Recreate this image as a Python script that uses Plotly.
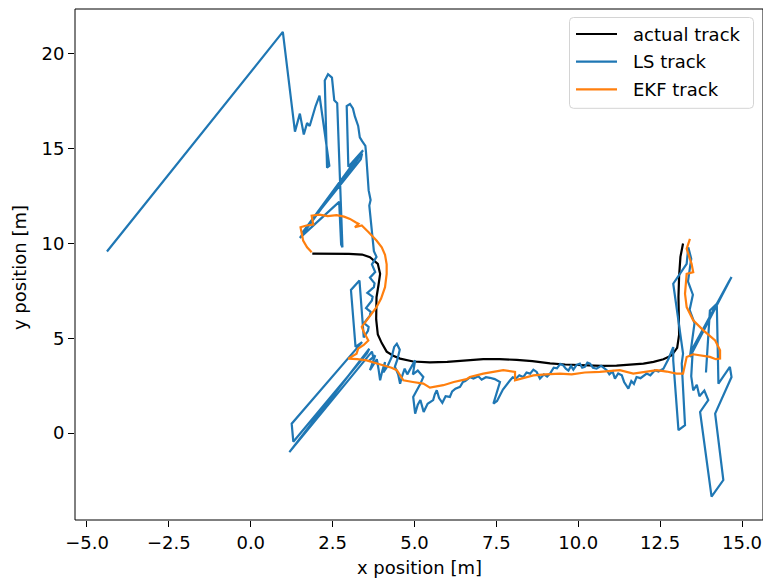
import plotly.graph_objects as go

# ---------------- data (x [m], y [m]) ----------------
actual_points = [
    (1.88, 9.47), (2.5, 9.47), (3.0, 9.45), (3.4, 9.42), (3.64, 9.28), (3.88, 8.93), (3.95, 8.4),
    (3.9, 7.8), (3.84, 7.17), (3.83, 6.0), (3.88, 5.2), (4.0, 4.75), (4.15, 4.3), (4.35, 4.08),
    (4.56, 3.93), (4.96, 3.78), (5.47, 3.73), (6.0, 3.76), (6.69, 3.86), (7.1, 3.9), (7.6, 3.9),
    (8.12, 3.87), (8.6, 3.8), (9.14, 3.68), (9.6, 3.62), (10.15, 3.57), (10.7, 3.55), (11.17, 3.56),
    (11.6, 3.6), (11.99, 3.67), (12.3, 3.76), (12.6, 3.9), (12.85, 4.1), (13.02, 4.5), (13.08, 5.2),
    (13.07, 6.2), (13.06, 7.2), (13.08, 8.3), (13.12, 9.3), (13.2, 10.0),
]

ls_points = [
    (-4.39, 9.58), (0.98, 21.16), (1.35, 15.90), (1.50, 16.85), (1.62, 15.75), (1.72, 16.35),
    (1.80, 16.20), (1.88, 16.70), (1.98, 17.25), (2.10, 17.80), (2.40, 14.10), (2.33, 14.00),
    (2.26, 18.60), (2.36, 18.93), (2.48, 18.75), (2.55, 17.55), (2.64, 17.40), (2.80, 9.80),
    (2.76, 9.95), (2.70, 12.20), (1.50, 10.30), (3.40, 14.75), (3.36, 14.45), (1.56, 10.55),
    (1.64, 10.72), (3.43, 14.92), (2.98, 14.05), (2.93, 17.25), (3.03, 17.36), (3.12, 17.12),
    (3.18, 16.70), (3.28, 16.20), (3.33, 15.60), (3.40, 15.40), (3.50, 15.15), (3.52, 14.80),
    (3.60, 12.80), (3.66, 12.30), (3.62, 12.00), (3.76, 9.60), (3.84, 9.30), (3.70, 8.90),
    (3.80, 8.50), (3.64, 8.20), (3.78, 7.90), (3.76, 7.70), (3.56, 7.40), (3.72, 7.20), (3.70, 7.00),
    (3.52, 6.60), (3.66, 6.40), (3.64, 6.20), (3.46, 5.80), (3.60, 5.60), (3.58, 5.40), (3.45, 5.05),
    (3.32, 8.05), (3.06, 7.55), (3.20, 4.55), (3.40, 4.80), (1.25, 0.50), (1.30, -0.45), (3.55, 4.20),
    (3.62, 4.45), (1.18, -1.00), (3.70, 4.30), (3.74, 4.02), (3.60, 3.80), (3.80, 4.10), (3.64, 3.32),
    (3.85, 3.90), (3.90, 3.40), (3.95, 2.79), (4.02, 3.30), (4.10, 3.75), (4.05, 3.20), (4.18, 3.55),
    (4.30, 4.00), (4.38, 4.55), (4.46, 4.72), (4.55, 4.40), (4.48, 3.90), (4.40, 3.50), (4.50, 3.10),
    (4.56, 2.61), (4.62, 3.00), (4.70, 3.40), (4.78, 3.10), (4.86, 3.32), (4.94, 3.60), (5.02, 3.84),
    (4.95, 3.10), (5.10, 3.30), (5.27, 2.96), (5.18, 2.60), (5.10, 2.35), (4.96, 1.91), (5.02, 1.03),
    (5.10, 1.50), (5.18, 1.75), (5.28, 1.12), (5.40, 1.55), (5.57, 1.74), (5.62, 2.05), (5.68, 2.26),
    (5.75, 1.85), (5.85, 1.60), (5.95, 1.95), (6.08, 1.91), (6.15, 2.20), (6.25, 2.35), (6.39, 2.44),
    (6.48, 2.70), (6.55, 2.75), (6.70, 2.95), (6.80, 2.88), (6.95, 3.00), (7.05, 2.82), (7.18, 2.95),
    (7.30, 2.92), (7.45, 2.85), (7.61, 2.70), (7.41, 1.56), (7.52, 1.70), (7.70, 2.30), (7.92, 2.79),
    (8.00, 2.95), (8.10, 2.88), (8.20, 3.05), (8.32, 2.96), (8.42, 3.20), (8.53, 3.14), (8.63, 3.35),
    (8.73, 3.23), (8.83, 2.88), (8.95, 3.10), (9.05, 2.98), (9.14, 3.14), (9.25, 3.45), (9.35, 3.42),
    (9.45, 3.65), (9.54, 3.58), (9.62, 3.40), (9.70, 3.30), (9.78, 3.55), (9.85, 3.35), (9.95, 3.60),
    (10.05, 3.67), (10.12, 3.45), (10.20, 3.50), (10.28, 3.72), (10.36, 3.67), (10.45, 3.45),
    (10.56, 3.40), (10.70, 3.55), (10.87, 3.32), (10.95, 3.10), (11.05, 3.25), (11.12, 2.88),
    (11.22, 3.15), (11.33, 3.05), (11.40, 2.70), (11.53, 2.35), (11.62, 2.75), (11.70, 2.60),
    (11.78, 2.96), (11.90, 2.90), (12.09, 3.14), (12.20, 3.05), (12.34, 3.32), (12.45, 3.25),
    (12.60, 3.40), (12.75, 3.90), (12.90, 4.54), (12.90, 3.84), (13.06, 0.16), (13.26, 0.42),
    (13.16, 3.67), (13.20, 4.20), (12.90, 7.88), (13.31, 8.93), (13.36, 9.80), (13.45, 9.20),
    (13.35, 8.00), (13.50, 7.30), (13.40, 6.50), (13.55, 5.80), (13.41, 4.02), (14.68, 8.23),
    (14.60, 8.00), (13.50, 4.50), (13.45, 3.00), (13.51, 2.26), (13.62, 2.55), (13.70, 1.95),
    (13.85, 2.25), (13.97, 1.74), (13.72, 1.12), (14.07, -3.35), (14.43, -2.47), (14.18, 1.03),
    (14.68, 2.96), (14.63, 3.49), (14.28, 2.61), (14.23, 6.82), (14.02, 6.47), (13.90, 3.20),
]

ekf_points = [
    (1.86, 9.54), (1.72, 9.80), (1.60, 10.16), (1.52, 10.86), (1.70, 10.95), (1.91, 11.00),
    (1.86, 11.47), (2.10, 11.52), (2.35, 11.45), (2.62, 11.50), (2.85, 11.42), (3.03, 11.30),
    (3.20, 11.12), (3.29, 11.04), (3.18, 10.86), (3.39, 10.95), (3.60, 10.60), (3.84, 10.16),
    (4.00, 9.80), (4.10, 9.40), (4.15, 8.90), (4.15, 8.40), (4.10, 7.70), (3.98, 7.10), (3.84, 6.65),
    (3.65, 6.20), (3.54, 5.95), (3.39, 5.60), (3.45, 5.35), (3.59, 4.89), (3.45, 4.65), (3.28, 4.46),
    (3.23, 4.19), (2.98, 3.93), (3.25, 3.90), (3.54, 3.84), (3.80, 3.70), (4.05, 3.58), (4.30, 3.45),
    (4.46, 3.32), (4.56, 3.05), (4.66, 2.79), (4.95, 2.70), (5.27, 2.61), (5.47, 2.40), (5.88, 2.53),
    (6.20, 2.70), (6.59, 2.85), (6.69, 2.96), (7.10, 3.14), (7.71, 3.32), (8.07, 3.23), (8.07, 2.79),
    (8.35, 2.92), (8.63, 3.05), (9.00, 3.10), (9.44, 3.14), (9.80, 3.10), (10.20, 3.20), (10.66, 3.23),
    (11.27, 3.32), (11.68, 3.14), (12.10, 3.25), (12.40, 3.32), (12.70, 3.25), (13.00, 3.14),
    (13.20, 3.14), (13.31, 4.02), (13.51, 4.16), (14.02, 4.02), (14.20, 3.90), (14.33, 3.93),
    (14.33, 4.37), (14.18, 4.89), (13.82, 5.42), (13.51, 5.95), (13.31, 6.65), (13.26, 7.35),
    (13.31, 8.40), (13.51, 8.49), (13.46, 8.93), (13.31, 9.72), (13.41, 10.25),
]

series_names = ["actual track", "LS track", "EKF track"]
series_colors = ["#000000", "#1f77b4", "#ff7f0e"]

x_tick_values = [-5.0, -2.5, 0.0, 2.5, 5.0, 7.5, 10.0, 12.5, 15.0]
x_tick_labels = ["−5.0", "−2.5", "0.0", "2.5", "5.0", "7.5", "10.0", "12.5", "15.0"]
y_tick_values = [0, 5, 10, 15, 20]
y_tick_labels = ["0", "5", "10", "15", "20"]

# ---------------- figure ----------------
W, H = 771, 581
OFF = 8                       # page offset (body margin) of the plot div
L, R, T, B = 75, 763, 9, 520  # plot area in page pixels
FONT = dict(family="DejaVu Sans", size=18, color="black")
LW = 2.2

fig = go.Figure()
for pts, name, col in zip([actual_points, ls_points, ekf_points], series_names, series_colors):
    xs, ys = zip(*pts)
    fig.add_trace(go.Scatter(x=list(xs), y=list(ys), mode="lines", name=name,
                             line=dict(color=col, width=LW), showlegend=False))


def px_to_paper(px, py):
    return (px - L) / (R - L), (B - py) / (B - T)


# axes frame
fig.add_shape(type="rect", xref="paper", yref="paper", x0=0, x1=1, y0=0, y1=1,
              line=dict(color="black", width=1), layer="above")

# manual matplotlib-style legend
bx0, by0 = px_to_paper(569.5, 108.3)
bx1, by1 = px_to_paper(753.5, 17.5)
rx, ry = 4 / (R - L), 4 / (B - T)
path = (f"M {bx0+rx},{by0} L {bx1-rx},{by0} Q {bx1},{by0} {bx1},{by0+ry} "
        f"L {bx1},{by1-ry} Q {bx1},{by1} {bx1-rx},{by1} L {bx0+rx},{by1} "
        f"Q {bx0},{by1} {bx0},{by1-ry} L {bx0},{by0+ry} Q {bx0},{by0} {bx0+rx},{by0} Z")
fig.add_shape(type="path", path=path, xref="paper", yref="paper",
              line=dict(color="#d4d4d4", width=1), fillcolor="rgba(255,255,255,0.8)", layer="above")
row_py = [34, 61.7, 89.3]
for i, (name, col) in enumerate(zip(series_names, series_colors)):
    lx0, ly = px_to_paper(576, row_py[i])
    lx1, _ = px_to_paper(617, row_py[i])
    tx, _ = px_to_paper(631, row_py[i])
    fig.add_shape(type="line", xref="paper", yref="paper", x0=lx0, x1=lx1, y0=ly, y1=ly,
                  line=dict(color=col, width=LW), layer="above")
    fig.add_annotation(text=name, xref="paper", yref="paper", x=tx, y=ly, xanchor="left",
                       yanchor="middle", showarrow=False, font=FONT)

# axis titles
_, ax_y = px_to_paper(0, 567)
fig.add_annotation(text="x position [m]", xref="paper", yref="paper", x=0.5, y=ax_y,
                   xanchor="center", yanchor="middle", showarrow=False, font=FONT)
ay_x, ay_y = px_to_paper(19, 267)
fig.add_annotation(text="y position [m]", xref="paper", yref="paper", x=ay_x, y=ay_y,
                   xanchor="center", yanchor="middle", showarrow=False, font=FONT, textangle=-90)

axis_common = dict(showline=False, showgrid=False, zeroline=False, ticks="outside", ticklen=6,
                   tickwidth=1, tickcolor="black", tickfont=FONT)
fig.update_xaxes(range=[-5.366, 15.641], tickvals=x_tick_values, ticktext=x_tick_labels, **axis_common)
fig.update_yaxes(range=[-4.579, 22.368], tickvals=y_tick_values, ticktext=y_tick_labels, **axis_common)

fig.update_layout(width=W, height=H,
                  margin=dict(l=L - OFF, r=W - R + OFF, t=T - OFF, b=H - B + OFF),
                  plot_bgcolor="white", paper_bgcolor="white", font=FONT)

fig.write_html("out.html")
